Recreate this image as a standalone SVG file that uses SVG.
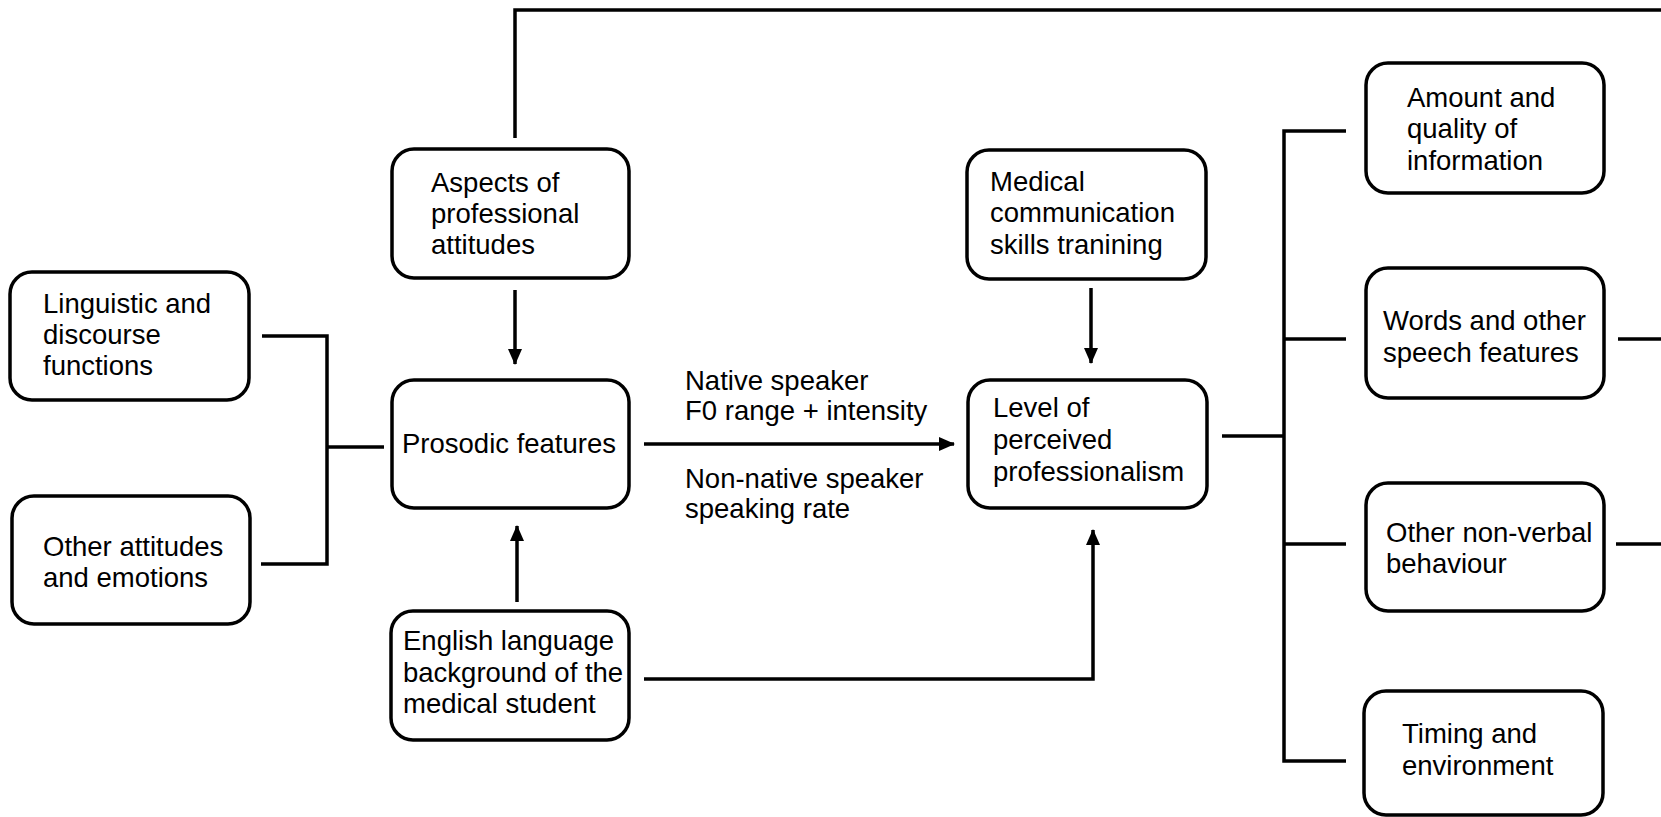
<svg xmlns="http://www.w3.org/2000/svg" width="1661" height="817" viewBox="0 0 1661 817">
<style>
.box{fill:#fff;stroke:#000;stroke-width:3.5}
.t{font-family:"Liberation Sans",Arial,sans-serif;font-size:27.5px;fill:#000}
.ln{fill:none;stroke:#000;stroke-width:3.5}
</style>
<defs>
<marker id="ah" markerUnits="userSpaceOnUse" markerWidth="16" markerHeight="14" refX="15" refY="7" orient="auto">
<path d="M0,0 L16,7 L0,14 z" fill="#000"/>
</marker>
</defs>
<rect width="1661" height="817" fill="#fff"/>
<g id="connectors">
<polyline class="ln" points="515,138 515,10 1661,10"/>
<line class="ln" x1="515" y1="290" x2="515" y2="364" marker-end="url(#ah)"/>
<polyline class="ln" points="262,336 327,336 327,564 261,564"/>
<line class="ln" x1="327" y1="447" x2="384" y2="447"/>
<line class="ln" x1="517" y1="602" x2="517" y2="526" marker-end="url(#ah)"/>
<line class="ln" x1="644" y1="444" x2="954" y2="444" marker-end="url(#ah)"/>
<polyline class="ln" points="644,679 1093,679 1093,530" marker-end="url(#ah)"/>
<line class="ln" x1="1091" y1="288" x2="1091" y2="363" marker-end="url(#ah)"/>
<line class="ln" x1="1222" y1="436" x2="1284" y2="436"/>
<polyline class="ln" points="1346,131 1284,131 1284,761 1346,761"/>
<line class="ln" x1="1284" y1="339" x2="1346" y2="339"/>
<line class="ln" x1="1284" y1="544" x2="1346" y2="544"/>
<line class="ln" x1="1618" y1="339" x2="1661" y2="339"/>
<line class="ln" x1="1616" y1="544" x2="1661" y2="544"/>
</g>
<g id="aspects">
<rect class="box" x="392" y="149" width="237" height="129" rx="22"/>
<text class="t" x="431" y="192">Aspects of</text>
<text class="t" x="431" y="223">professional</text>
<text class="t" x="431" y="254">attitudes</text>
</g>
<g id="linguistic">
<rect class="box" x="10" y="272" width="239" height="128" rx="22"/>
<text class="t" x="43" y="313">Linguistic and</text>
<text class="t" x="43" y="344">discourse</text>
<text class="t" x="43" y="375">functions</text>
</g>
<g id="prosodic">
<rect class="box" x="392" y="380" width="237" height="128" rx="22"/>
<text class="t" x="402" y="453">Prosodic features</text>
</g>
<g id="other-attitudes">
<rect class="box" x="12" y="496" width="238" height="128" rx="22"/>
<text class="t" x="43" y="556">Other attitudes</text>
<text class="t" x="43" y="587">and emotions</text>
</g>
<g id="english">
<rect class="box" x="391" y="611" width="238" height="129" rx="22"/>
<text class="t" x="403" y="650">English language</text>
<text class="t" x="403" y="682">background of the</text>
<text class="t" x="403" y="713">medical student</text>
</g>
<g id="edge-labels">
<text class="t" x="685" y="390">Native speaker</text>
<text class="t" x="685" y="420">F0 range + intensity</text>
<text class="t" x="685" y="488">Non-native speaker</text>
<text class="t" x="685" y="518">speaking rate</text>
</g>
<g id="medical">
<rect class="box" x="967" y="150" width="239" height="129" rx="22"/>
<text class="t" x="990" y="191">Medical</text>
<text class="t" x="990" y="222">communication</text>
<text class="t" x="990" y="254">skills tranining</text>
</g>
<g id="level">
<rect class="box" x="968" y="380" width="239" height="128" rx="22"/>
<text class="t" x="993" y="417">Level of</text>
<text class="t" x="993" y="449">perceived</text>
<text class="t" x="993" y="481">professionalism</text>
</g>
<g id="amount">
<rect class="box" x="1366" y="63" width="238" height="130" rx="22"/>
<text class="t" x="1407" y="107">Amount and</text>
<text class="t" x="1407" y="138">quality of</text>
<text class="t" x="1407" y="170">information</text>
</g>
<g id="words">
<rect class="box" x="1366" y="268" width="238" height="130" rx="22"/>
<text class="t" x="1383" y="330">Words and other</text>
<text class="t" x="1383" y="362">speech features</text>
</g>
<g id="nonverbal">
<rect class="box" x="1366" y="483" width="238" height="128" rx="22"/>
<text class="t" x="1386" y="542">Other non-verbal</text>
<text class="t" x="1386" y="573">behaviour</text>
</g>
<g id="timing">
<rect class="box" x="1364" y="691" width="239" height="124" rx="22"/>
<text class="t" x="1402" y="743">Timing and</text>
<text class="t" x="1402" y="775">environment</text>
</g>
</svg>
